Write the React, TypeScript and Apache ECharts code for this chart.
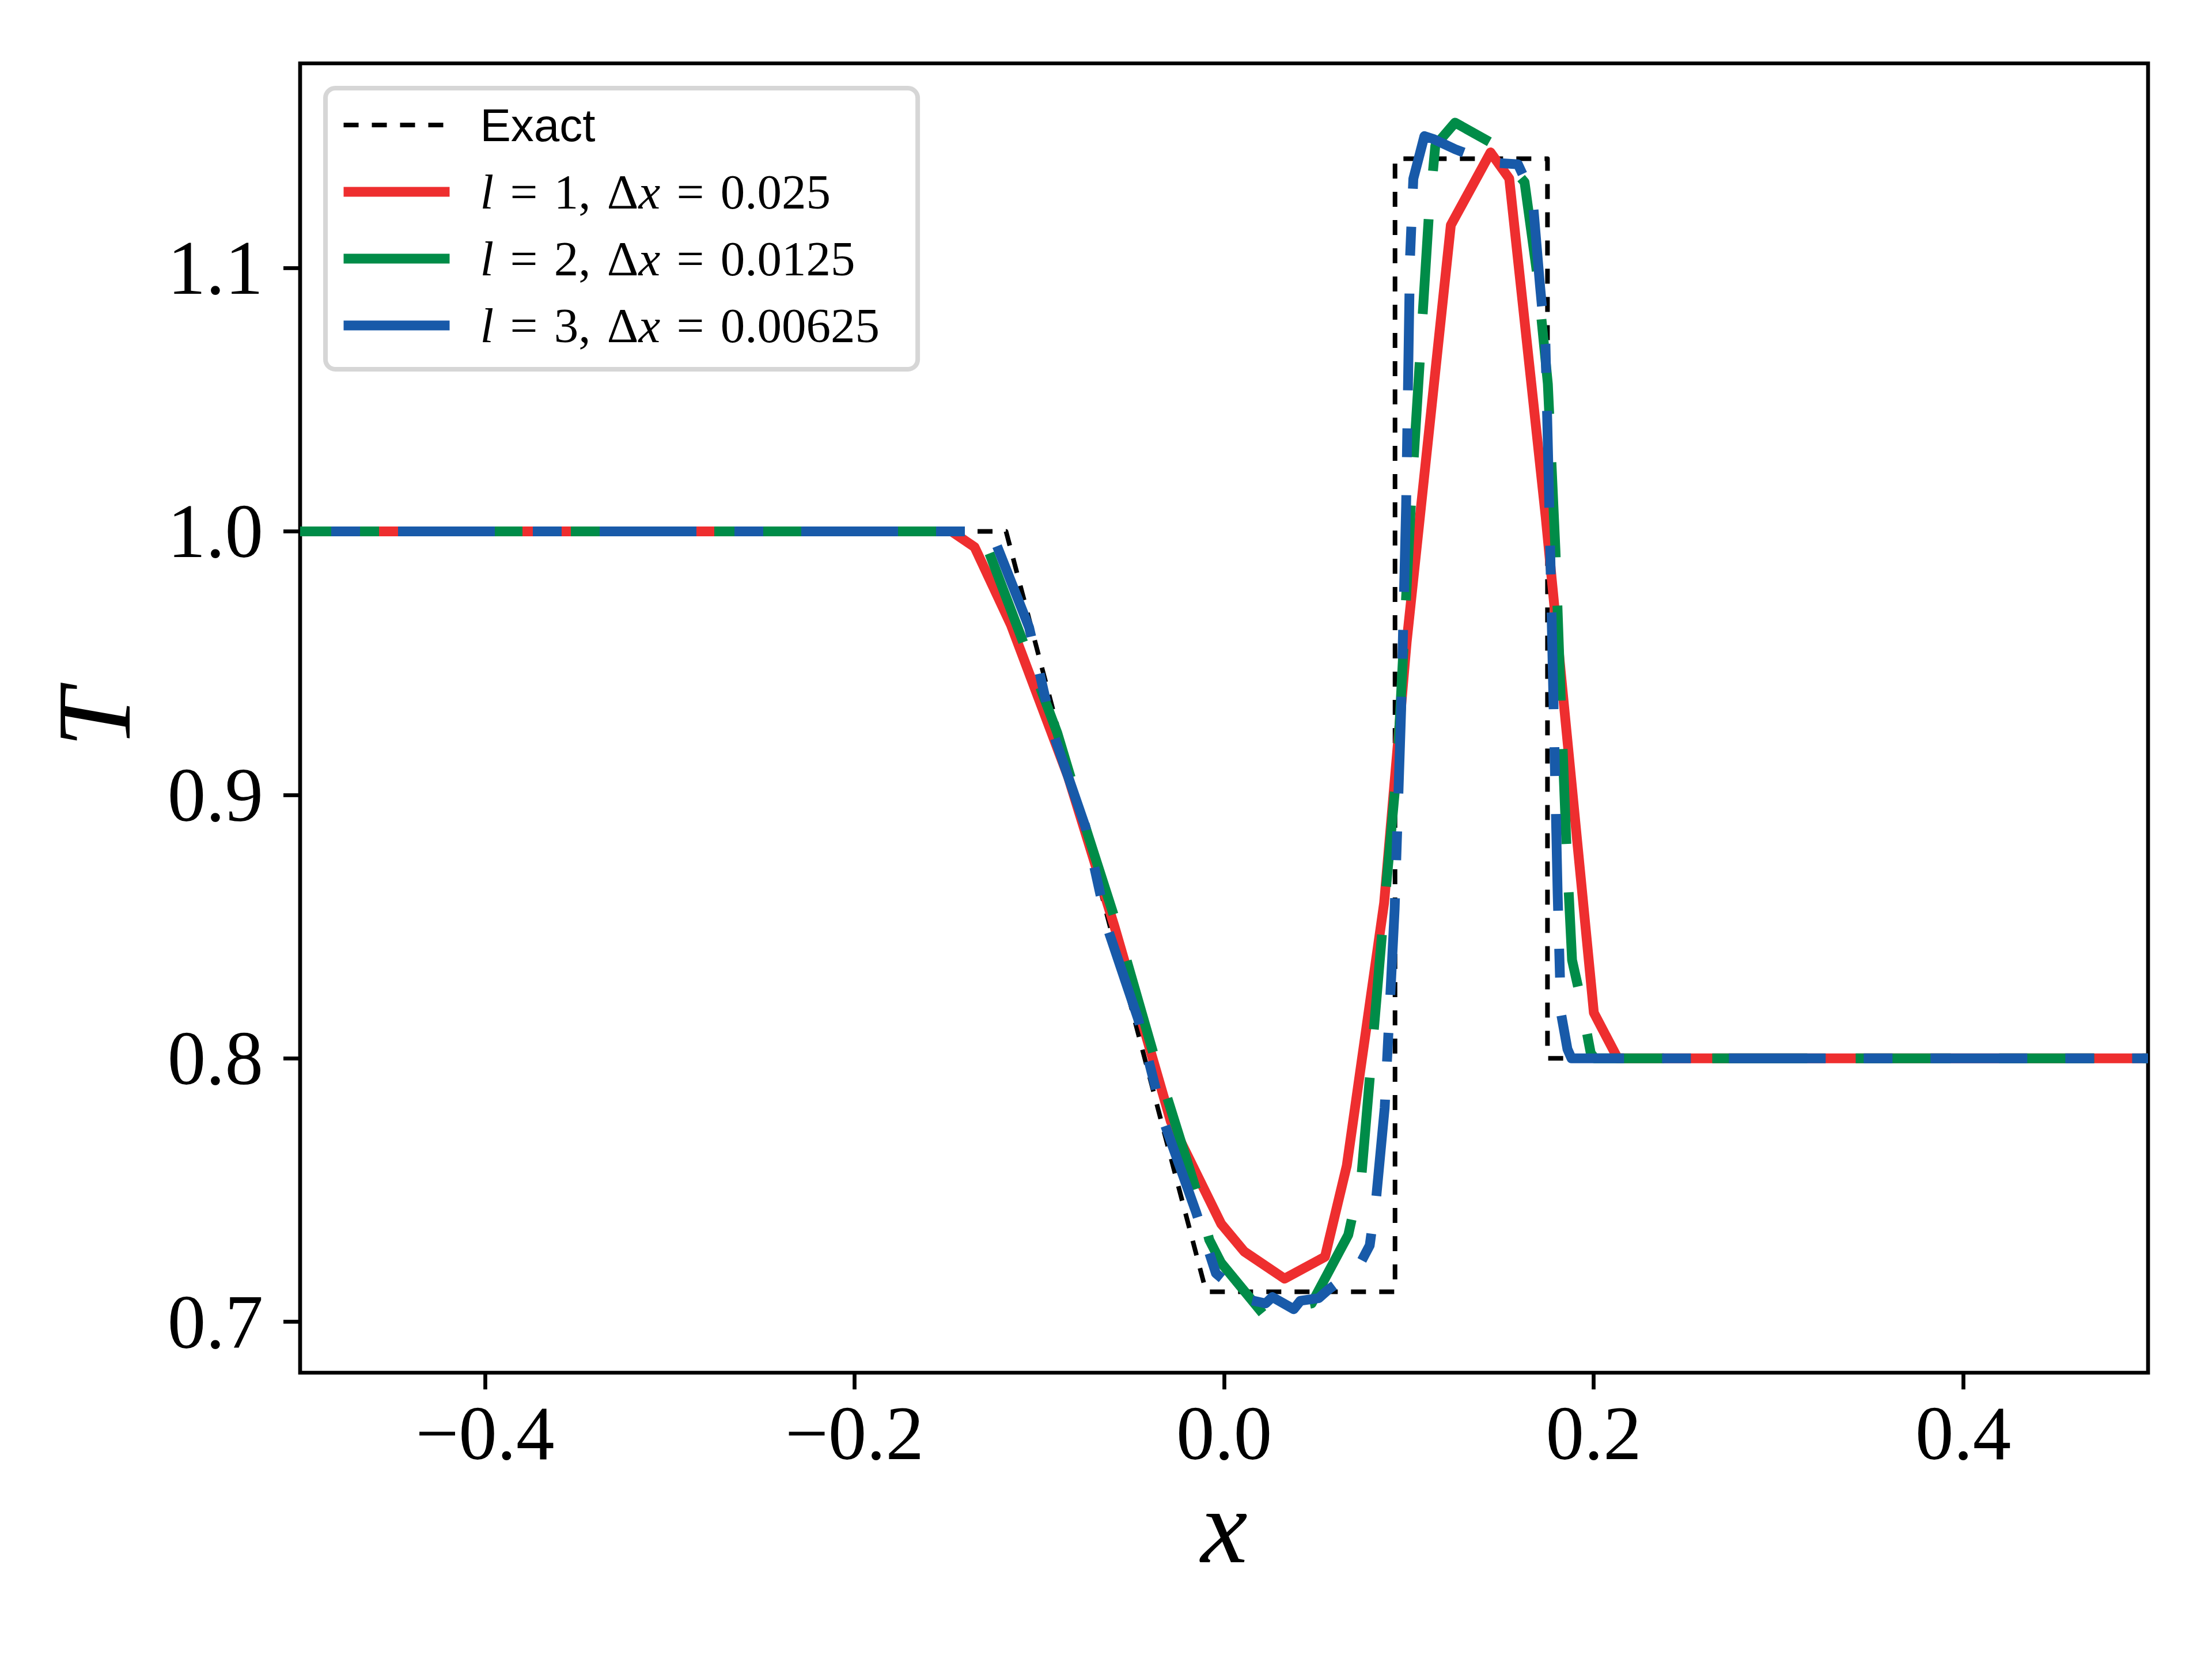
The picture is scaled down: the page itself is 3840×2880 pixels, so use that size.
import React, { useEffect, useRef } from "react";
import * as echarts from "echarts";

// ---------- data ----------
const exactX = [-0.5, -0.118, -0.0097, 0.0925, 0.0925, 0.175, 0.175, 0.5];
const exactY = [1.0, 1.0, 0.7114, 0.7114, 1.1414, 1.1414, 0.8, 0.8];

const l1X = [-0.5, -0.1475, -0.135, -0.1154, -0.0845, -0.0593, -0.0288, -0.0016, 0.0109, 0.0327, 0.0546, 0.0664, 0.0866, 0.0988, 0.1227, 0.1442, 0.1543, 0.174, 0.2001, 0.213, 0.5];
const l1Y = [1.0, 1.0, 0.994, 0.9646, 0.907, 0.85, 0.776, 0.7372, 0.7267, 0.7164, 0.7247, 0.7593, 0.859, 0.958, 1.1162, 1.1438, 1.1339, 1.0057, 0.8173, 0.8, 0.8];

const l2X = [-0.5, -0.135, -0.127, -0.11, -0.0903, -0.0742, -0.0598, -0.0384, -0.0151, -0.008, -0.0017, 0.0208, 0.0474, 0.0672, 0.0744, 0.0864, 0.094, 0.1012, 0.1059, 0.1107, 0.1143, 0.125, 0.1442, 0.1626, 0.1692, 0.1752, 0.1793, 0.1823, 0.1853, 0.1883, 0.1919, 0.1984, 0.2006, 0.5];
const l2Y = [1.0, 1.0, 0.9917, 0.9603, 0.9236, 0.886, 0.8545, 0.8022, 0.7499, 0.7311, 0.7225, 0.7033, 0.707, 0.733, 0.756, 0.855, 0.914, 1.0116, 1.0647, 1.1188, 1.1464, 1.1551, 1.1476, 1.1325, 1.0986, 1.056, 0.993, 0.934, 0.88, 0.8373, 0.826, 0.802, 0.8, 0.8];

const l3X = [-0.5, -0.132, -0.1233, -0.1055, -0.0921, -0.0751, -0.0626, -0.0465, -0.0321, -0.0151, -0.0044, 0.0126, 0.0225, 0.0261, 0.0377, 0.0413, 0.0512, 0.0564, 0.0725, 0.0788, 0.0824, 0.0869, 0.0923, 0.0958, 0.0985, 0.1006, 0.1024, 0.1084, 0.1132, 0.1251, 0.144, 0.159, 0.1668, 0.1709, 0.1739, 0.1757, 0.178, 0.1805, 0.1823, 0.1858, 0.188, 0.5];
const l3Y = [1.0, 1.0, 0.9952, 0.9635, 0.9226, 0.888, 0.8484, 0.8149, 0.775, 0.7415, 0.7184, 0.7085, 0.707, 0.7094, 0.7048, 0.708, 0.709, 0.7122, 0.7206, 0.729, 0.7477, 0.7812, 0.8567, 0.932, 1.0095, 1.1036, 1.1338, 1.15, 1.1489, 1.145, 1.14, 1.1393, 1.1276, 1.0937, 1.071, 1.018, 0.943, 0.8625, 0.8172, 0.8035, 0.8, 0.8];

const xTicks = [-0.4, -0.2, 0.0, 0.2, 0.4];
const yTicks = [0.7, 0.8, 0.9, 1.0, 1.1];
const xRange = [-0.5, 0.5];
const yRange = [0.6807, 1.1776];

const seriesNames = ["Exact", "l1", "l2", "l3"];
const levels = ["1", "2", "3"];
const deltas = ["0.025", "0.0125", "0.00625"];

// ---------- styles ----------
const SERIF = "'Liberation Serif', 'DejaVu Serif', serif";
const SANS = "'Liberation Sans', 'DejaVu Sans', sans-serif";
const RED = "#EE2E2F";
const GREEN = "#008C48";
const BLUE = "#185AA9";
const LW = 17;

const zip = (xs: number[], ys: number[]) => xs.map((x, i) => [x, ys[i]]);
const fmt = (v: number) => (v < -1e-9 ? "\u2212" : "") + Math.abs(v).toFixed(1);
const SP = "\u2004";

export default function App() {
  const ref = useRef<HTMLDivElement>(null);

  useEffect(() => {
    document.body.style.margin = "0";
    if (!ref.current) return;
    const chart = echarts.init(ref.current, undefined, { renderer: "svg" });

    const legendFormatter = (name: string) => {
      if (name === "Exact") return "{sp|}{s|Exact}";
      const k = seriesNames.indexOf(name) - 1;
      return `{sp|}{i|l}{r|${SP}=${SP}${levels[k]},${SP}\u0394}{i|x}{r|${SP}=${SP}${deltas[k]}}`;
    };

    const hiddenSymbol = { opacity: 0, borderWidth: 0, color: "rgba(0,0,0,0)" };

    chart.setOption({
      animation: false,
      backgroundColor: "#ffffff",
      grid: {
        left: 521,
        right: 111,
        top: 110,
        bottom: 497,
        show: true,
        borderColor: "#000000",
        borderWidth: 6.7,
        backgroundColor: "transparent",
        containLabel: false,
      },
      xAxis: {
        type: "value",
        min: xRange[0],
        max: xRange[1],
        axisLine: { show: false, onZero: false },
        splitLine: { show: false },
        axisTick: {
          show: true,
          inside: false,
          length: 29,
          customValues: xTicks,
          lineStyle: { color: "#000", width: 6.7 },
        },
        axisLabel: {
          customValues: xTicks,
          formatter: (v: number) => fmt(v),
          margin: 38,
          fontSize: 133,
          fontFamily: SERIF,
          color: "#000",
        },
        name: "x",
        nameLocation: "middle",
        nameGap: 162,
        nameTextStyle: { fontSize: 183, fontStyle: "italic", fontFamily: SERIF, color: "#000" },
      },
      yAxis: {
        type: "value",
        min: yRange[0],
        max: yRange[1],
        axisLine: { show: false, onZero: false },
        splitLine: { show: false },
        axisTick: {
          show: true,
          inside: false,
          length: 29,
          customValues: yTicks,
          lineStyle: { color: "#000", width: 6.7 },
        },
        axisLabel: {
          customValues: yTicks,
          formatter: (v: number) => fmt(v),
          margin: 64,
          fontSize: 133,
          fontFamily: SERIF,
          color: "#000",
        },
        name: "T",
        nameLocation: "middle",
        nameRotate: 90,
        nameGap: 266,
        nameTextStyle: { fontSize: 183, fontStyle: "italic", fontFamily: SERIF, color: "#000" },
      },
      legend: {
        show: true,
        orient: "vertical",
        left: 565,
        top: 153,
        padding: [18, 66, 30, 23],
        itemWidth: 184,
        itemHeight: 20,
        itemGap: 24,
        selectedMode: false,
        backgroundColor: "rgba(255,255,255,0.8)",
        borderColor: "rgba(204,204,204,0.8)",
        borderWidth: 8,
        borderRadius: 17,
        formatter: legendFormatter,
        textStyle: {
          color: "#000",
          fontFamily: SERIF,
          fontSize: 85,
          lineHeight: 92,
          rich: {
            sp: { width: 48, lineHeight: 92 },
            s: { fontFamily: SANS, fontSize: 80, lineHeight: 92, color: "#000" },
            i: { fontFamily: SERIF, fontStyle: "italic", fontSize: 85, lineHeight: 92, color: "#000" },
            r: { fontFamily: SERIF, fontSize: 85, lineHeight: 92, color: "#000" },
          },
        },
        data: [
          { name: "Exact", itemStyle: hiddenSymbol, lineStyle: { type: [26, 23], dashOffset: 0, width: 8 } },
          { name: "l1", itemStyle: hiddenSymbol, lineStyle: { type: "solid", width: LW } },
          { name: "l2", itemStyle: hiddenSymbol, lineStyle: { type: "solid", width: LW } },
          { name: "l3", itemStyle: hiddenSymbol, lineStyle: { type: "solid", width: LW } },
        ],
      },
      series: [
        {
          name: "Exact",
          type: "line",
          data: zip(exactX, exactY),
          symbol: "none",
          showSymbol: false,
          lineStyle: { color: "#000000", width: 8, type: [26, 23], dashOffset: 0, cap: "butt", join: "round" },
          itemStyle: { color: "#000000" },
        },
        {
          name: "l1",
          type: "line",
          data: zip(l1X, l1Y),
          symbol: "none",
          showSymbol: false,
          lineStyle: { color: RED, width: LW, type: "solid", cap: "butt", join: "round" },
          itemStyle: { color: RED },
        },
        {
          name: "l2",
          type: "line",
          data: zip(l2X, l2Y),
          symbol: "none",
          showSymbol: false,
          lineStyle: { color: GREEN, width: LW, type: [165, 84], dashOffset: 28, cap: "butt", join: "round" },
          itemStyle: { color: GREEN },
        },
        {
          name: "l3",
          type: "line",
          data: zip(l3X, l3Y),
          symbol: "none",
          showSymbol: false,
          lineStyle: { color: BLUE, width: LW, type: [168, 66, 50, 66], dashOffset: 180, cap: "butt", join: "round" },
          itemStyle: { color: BLUE },
        },
      ],
    });

    return () => chart.dispose();
  }, []);

  return <div ref={ref} style={{ width: 3840, height: 2880 }} />;
}
